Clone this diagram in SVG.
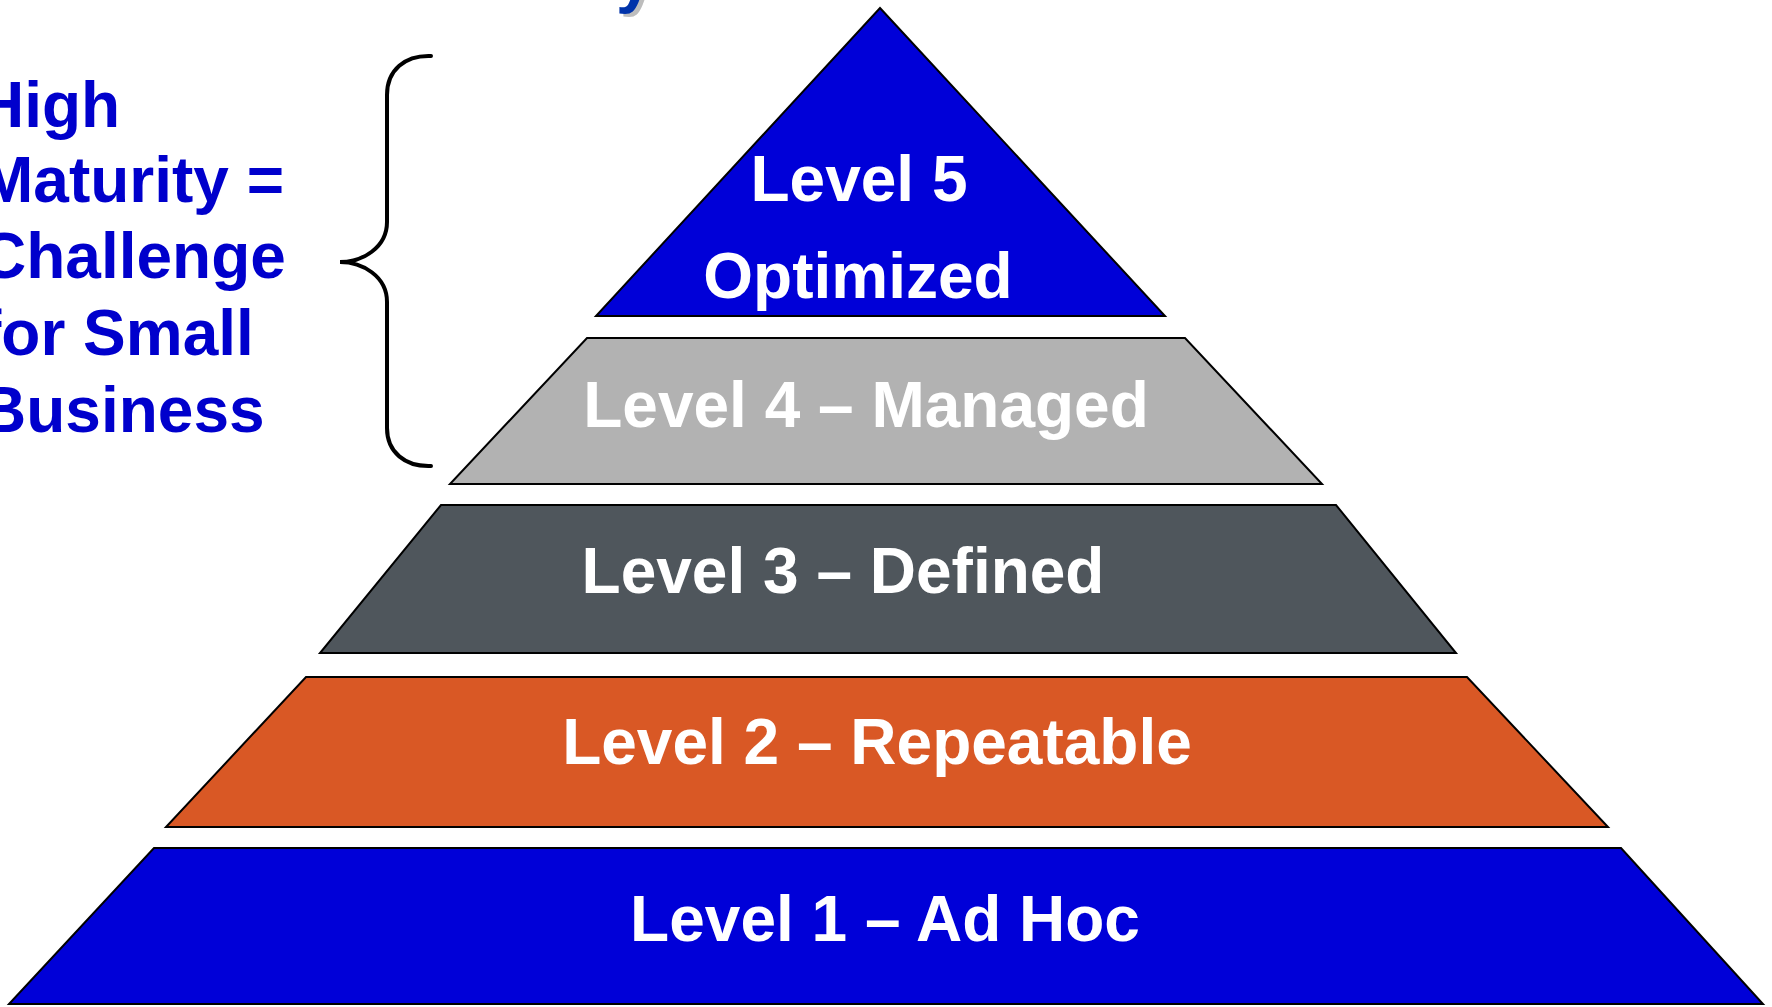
<svg xmlns="http://www.w3.org/2000/svg" width="1772" height="1007" viewBox="0 0 1772 1007">
<style>
.lvl{stroke:#000;stroke-width:2;stroke-linejoin:miter}
.t{font-family:"Liberation Sans",Arial,sans-serif;font-weight:bold;font-size:64px;fill:#fff;text-anchor:middle}
.side{font-family:"Liberation Sans",Arial,sans-serif;font-weight:bold;font-size:64px;fill:#0000CC}
.title{font-family:"Liberation Sans",Arial,sans-serif;font-weight:bold;font-size:66px}
</style>
<rect width="1772" height="1007" fill="#fff"/>
<g id="title-fragment">
<text class="title" x="620" y="3" fill="#BDBDBD">y</text>
<text class="title" x="616" y="0" fill="#0033AA">y</text>
</g>
<g id="level5">
<polygon class="lvl" points="880,8 1165,316 596,316" fill="#0000D8"/>
<text class="t" x="859" y="201">Level 5</text>
<text class="t" x="858" y="298">Optimized</text>
</g>
<g id="level4">
<polygon class="lvl" points="587,338 1185,338 1322,484 450,484" fill="#B2B2B2"/>
<text class="t" x="866" y="427">Level 4 – Managed</text>
</g>
<g id="level3">
<polygon class="lvl" points="441,505 1336,505 1456,653 320,653" fill="#4F565C"/>
<text class="t" x="843" y="593">Level 3 – Defined</text>
</g>
<g id="level2">
<polygon class="lvl" points="306,677 1467,677 1608,827 166,827" fill="#D95825"/>
<text class="t" x="877" y="764">Level 2 – Repeatable</text>
</g>
<g id="level1">
<polygon class="lvl" points="154,848 1621,848 1763,1004 9,1004" fill="#0000D8"/>
<text class="t" x="885" y="941">Level 1 – Ad Hoc</text>
</g>
<g id="brace">
<path d="M431,56 C405,55 387,70 387,95 L387,222 C387,248 362,262 340,262 C362,262 387,276 387,302 L387,428 C387,452 405,467 431,466" fill="none" stroke="#000" stroke-width="4" stroke-linecap="round"/>
</g>
<g id="note">
<text class="side" x="-22" y="127">High</text>
<text class="side" x="-20" y="202">Maturity =</text>
<text class="side" x="-20" y="278">Challenge</text>
<text class="side" x="-20" y="355">for Small</text>
<text class="side" x="-20" y="432">Business</text>
</g>
</svg>
